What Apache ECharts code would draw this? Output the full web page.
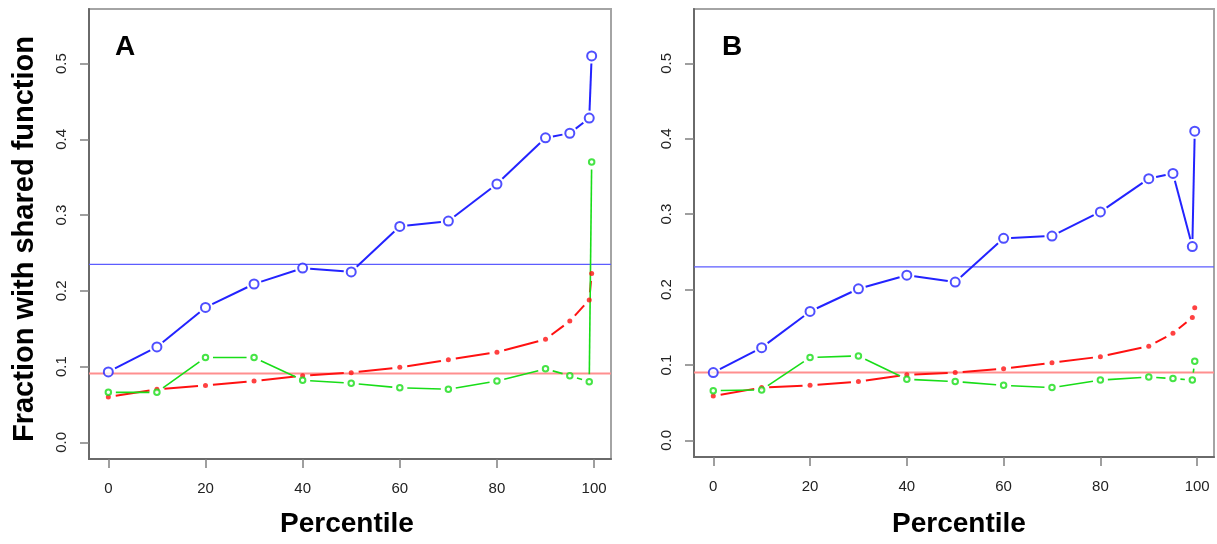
<!DOCTYPE html>
<html>
<head>
<meta charset="utf-8">
<script src="https://cdn.jsdelivr.net/npm/echarts@6/dist/echarts.min.js"></script>
<style>
  html, body { margin: 0; padding: 0; background: #fff; }
  #chart { width: 1217px; height: 544px; }
</style>
</head>
<body>
<div id="chart"></div>
<script>
// Percentile bins shared by both panels
const percentiles = [0, 10, 20, 30, 40, 50, 60, 70, 80, 90, 95, 99, 99.5];

// Panel A
const blueA  = [0.093, 0.126, 0.178, 0.209, 0.230, 0.225, 0.285, 0.292, 0.341, 0.402, 0.408, 0.428, 0.510];
const redA   = [0.060, 0.070, 0.075, 0.081, 0.088, 0.092, 0.099, 0.109, 0.119, 0.136, 0.160, 0.188, 0.223];
const greenA = [0.066, 0.066, 0.112, 0.112, 0.082, 0.078, 0.072, 0.070, 0.081, 0.097, 0.088, 0.080, 0.370];
const baselineBlueA = 0.235;
const baselineRedA  = 0.091;

// Panel B
const blueB  = [0.090, 0.123, 0.171, 0.201, 0.219, 0.210, 0.268, 0.271, 0.303, 0.347, 0.354, 0.257, 0.410];
const redB   = [0.059, 0.070, 0.073, 0.078, 0.087, 0.090, 0.095, 0.103, 0.111, 0.125, 0.142, 0.163, 0.176];
const greenB = [0.066, 0.067, 0.110, 0.112, 0.081, 0.078, 0.073, 0.070, 0.080, 0.084, 0.082, 0.080, 0.105];
const baselineBlueB = 0.230;
const baselineRedB  = 0.090;

// Tick labels
const xTicks = [0, 20, 40, 60, 80, 100];
const yTicks = [0.0, 0.1, 0.2, 0.3, 0.4, 0.5];
const panelLabels = ['A', 'B'];
const xTitle = 'Percentile';
const yTitle = 'Fraction with shared function';

// Axis ranges (data range padded by 4% on each side, R style)
const X_MIN = -3.98, X_MAX = 103.48;
const Y_MIN = -0.022, Y_MAX = 0.572;

const FONT = 'Liberation Sans, Arial, sans-serif';
const COLORS = { blue: '#2323ff', red: '#ff1111', green: '#18dd18' };
const GAP = 7.5; // gap left around each point, as in type="b" plots

function pairs(xs, ys) {
  return xs.map((x, i) => [x, ys[i]]);
}
function segments(xs, ys) {
  const out = [];
  for (let i = 0; i < xs.length - 1; i++) out.push([xs[i], ys[i], xs[i + 1], ys[i + 1]]);
  return out;
}

// Line segments between points, shortened at both ends
function gapRenderer(color, width) {
  return function (params, api) {
    const p0 = api.coord([api.value(0), api.value(1)]);
    const p1 = api.coord([api.value(2), api.value(3)]);
    const dx = p1[0] - p0[0], dy = p1[1] - p0[1];
    const len = Math.sqrt(dx * dx + dy * dy);
    if (len <= 2 * GAP + 1) return null;
    const ux = dx / len, uy = dy / len;
    return {
      type: 'line',
      shape: {
        x1: p0[0] + ux * GAP, y1: p0[1] + uy * GAP,
        x2: p1[0] - ux * GAP, y2: p1[1] - uy * GAP
      },
      style: { stroke: color, lineWidth: width, lineCap: 'butt' }
    };
  };
}

function lineSeries(idx, ys, color, width) {
  return {
    type: 'custom',
    xAxisIndex: idx, yAxisIndex: idx,
    renderItem: gapRenderer(color, width),
    encode: { x: [0, 2], y: [1, 3] },
    data: segments(percentiles, ys),
    z: 3,
    silent: true
  };
}

function pointSeries(idx, ys, kind) {
  const base = {
    type: 'scatter', xAxisIndex: idx, yAxisIndex: idx,
    data: pairs(percentiles, ys), silent: true, z: 4
  };
  if (kind === 'blue') {
    return Object.assign(base, {
      symbol: 'emptyCircle', symbolSize: 9,
      itemStyle: { color: COLORS.blue, borderColor: COLORS.blue, borderWidth: 2 }
    });
  }
  if (kind === 'red') {
    return Object.assign(base, {
      symbol: 'circle', symbolSize: 5,
      itemStyle: { color: COLORS.red }
    });
  }
  return Object.assign(base, {
    symbol: 'emptyCircle', symbolSize: 5.5,
    itemStyle: { color: COLORS.green, borderColor: COLORS.green, borderWidth: 1.6 }
  });
}

// Horizontal reference level spanning the whole plot region
function baselineSeries(idx, value, color, width) {
  return {
    type: 'custom', xAxisIndex: idx, yAxisIndex: idx, z: 2, silent: true,
    encode: { x: [0, 2], y: 1 },
    data: [[X_MIN, value, X_MAX]],
    renderItem: function (params, api) {
      const a = api.coord([api.value(0), api.value(1)]);
      const b = api.coord([api.value(2), api.value(1)]);
      return {
        type: 'line',
        shape: { x1: a[0], y1: a[1], x2: b[0], y2: b[1] },
        style: { stroke: color, lineWidth: width }
      };
    }
  };
}

function xAxisFor(idx) {
  return {
    type: 'value', gridIndex: idx, min: X_MIN, max: X_MAX,
    axisLine: { show: true, onZero: false, lineStyle: { color: '#6a6a6a', width: 2 } },
    axisTick: { show: true, length: 9, customValues: xTicks, lineStyle: { color: '#808080', width: 1.5 } },
    axisLabel: {
      customValues: xTicks, margin: 22, fontSize: 15, color: '#222',
      fontFamily: FONT, formatter: v => String(Math.round(v))
    },
    splitLine: { show: false }
  };
}

function yAxisFor(idx) {
  return {
    type: 'value', gridIndex: idx, min: Y_MIN, max: Y_MAX,
    axisLine: { show: true, onZero: false, lineStyle: { color: '#6a6a6a', width: 2 } },
    axisTick: { show: true, length: 9, customValues: yTicks, lineStyle: { color: '#808080', width: 1.5 } },
    axisLabel: {
      customValues: yTicks, margin: 20, rotate: 90, fontSize: 15, color: '#222',
      fontFamily: FONT, formatter: v => v.toFixed(1)
    },
    splitLine: { show: false }
  };
}

const chart = echarts.init(document.getElementById('chart'), null, { renderer: 'canvas' });

const option = {
  animation: false,
  backgroundColor: '#ffffff',
  grid: [
    { left: 89, right: 606, top: 9, bottom: 85, show: true, borderColor: '#a4a4a4', borderWidth: 2, backgroundColor: 'transparent' },
    { left: 694, right: 3, top: 9, bottom: 87, show: true, borderColor: '#a4a4a4', borderWidth: 2, backgroundColor: 'transparent' }
  ],
  xAxis: [xAxisFor(0), xAxisFor(1)],
  yAxis: [yAxisFor(0), yAxisFor(1)],
  series: [
    baselineSeries(0, baselineBlueA, '#5c5cff', 1.3),
    baselineSeries(0, baselineRedA, '#ff8f8f', 2),
    lineSeries(0, blueA, COLORS.blue, 2),
    lineSeries(0, redA, COLORS.red, 2),
    lineSeries(0, greenA, COLORS.green, 1.6),
    pointSeries(0, blueA, 'blue'),
    pointSeries(0, redA, 'red'),
    pointSeries(0, greenA, 'green'),

    baselineSeries(1, baselineBlueB, '#5c5cff', 1.3),
    baselineSeries(1, baselineRedB, '#ff8f8f', 2),
    lineSeries(1, blueB, COLORS.blue, 2),
    lineSeries(1, redB, COLORS.red, 2),
    lineSeries(1, greenB, COLORS.green, 1.6),
    pointSeries(1, blueB, 'blue'),
    pointSeries(1, redB, 'red'),
    pointSeries(1, greenB, 'green')
  ],
  graphic: [
    { type: 'text', x: 115, y: 47, style: { text: panelLabels[0], font: 'bold 28px ' + FONT, fill: '#000', verticalAlign: 'middle' } },
    { type: 'text', x: 722, y: 47, style: { text: panelLabels[1], font: 'bold 28px ' + FONT, fill: '#000', verticalAlign: 'middle' } },
    { type: 'text', x: 25, y: 239, rotation: Math.PI / 2,
      style: { text: yTitle, font: 'bold 29px ' + FONT, fill: '#000', align: 'center', verticalAlign: 'middle' } },
    { type: 'text', x: 347, y: 524, style: { text: xTitle, font: 'bold 28px ' + FONT, fill: '#000', align: 'center', verticalAlign: 'middle' } },
    { type: 'text', x: 959, y: 524, style: { text: xTitle, font: 'bold 28px ' + FONT, fill: '#000', align: 'center', verticalAlign: 'middle' } }
  ]
};

chart.setOption(option);
</script>
</body>
</html>
